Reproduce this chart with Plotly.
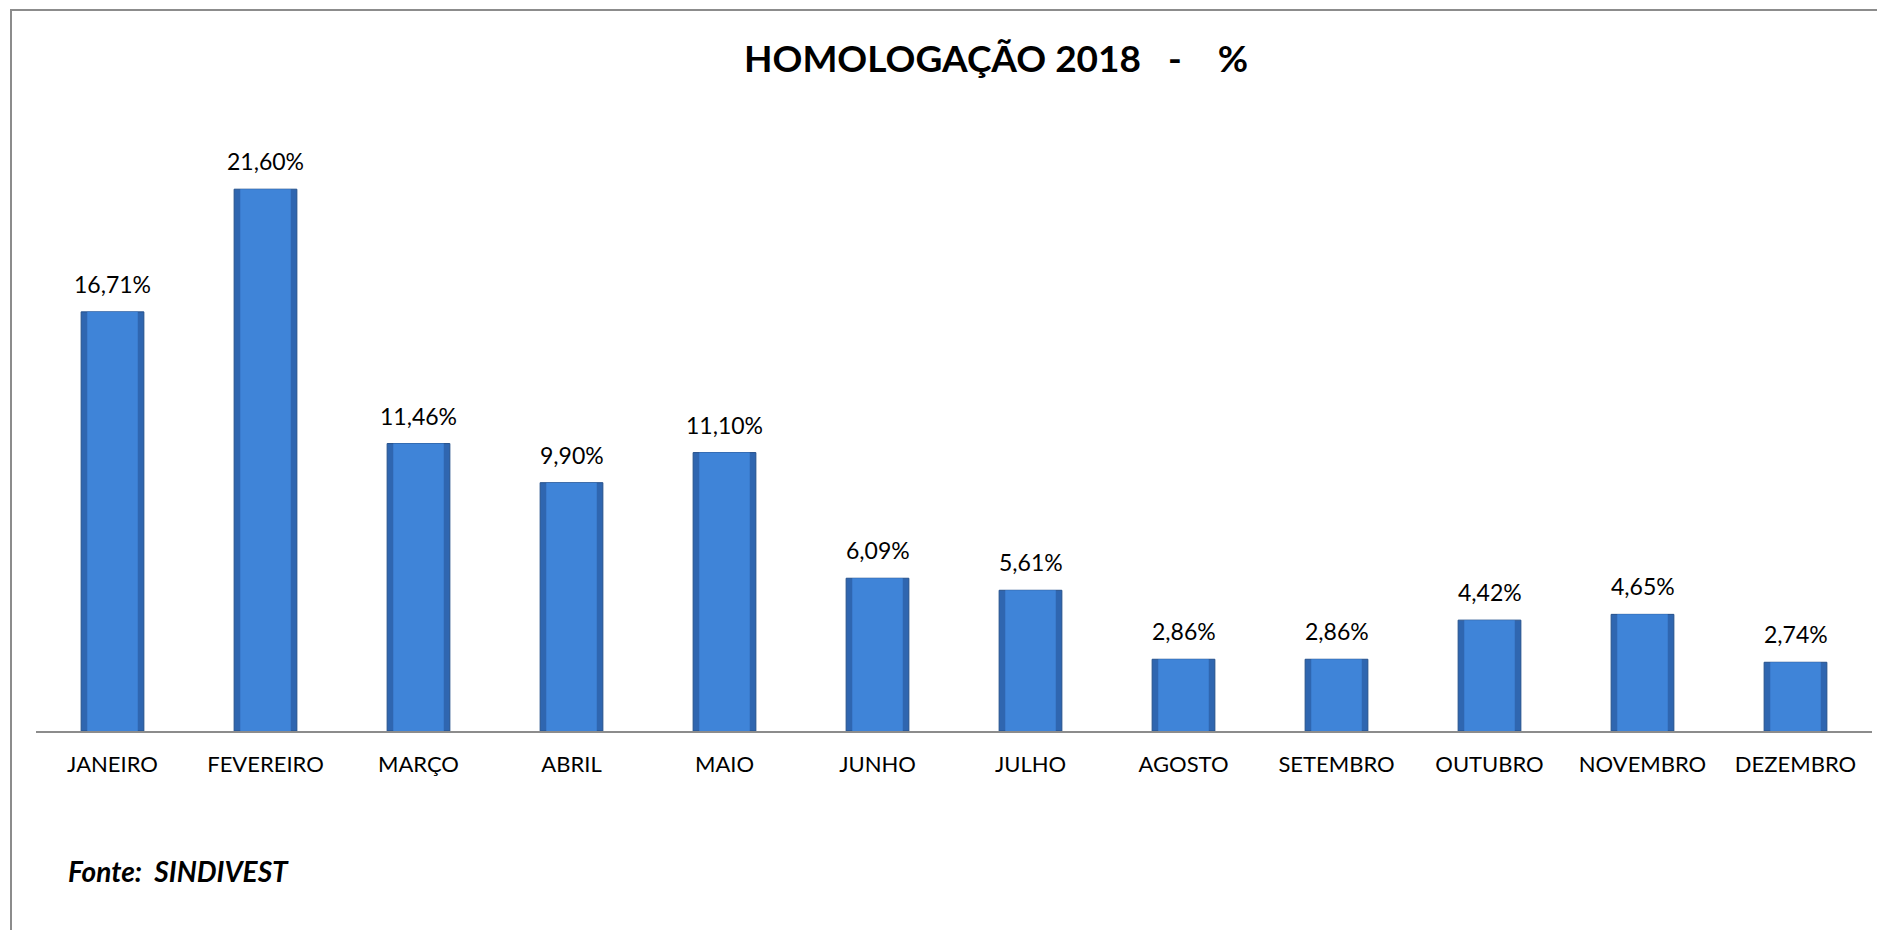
import plotly.graph_objects as go

months = ["JANEIRO", "FEVEREIRO", "MARÇO", "ABRIL", "MAIO", "JUNHO", "JULHO",
          "AGOSTO", "SETEMBRO", "OUTUBRO", "NOVEMBRO", "DEZEMBRO"]
values = [16.71, 21.60, 11.46, 9.90, 11.10, 6.09, 5.61, 2.86, 2.86, 4.42, 4.65, 2.74]
labels = ["16,71%", "21,60%", "11,46%", "9,90%", "11,10%", "6,09%", "5,61%",
          "2,86%", "2,86%", "4,42%", "4,65%", "2,74%"]
title_text = "HOMOLOGAÇÃO 2018\u00a0\u00a0\u00a0-\u00a0\u00a0\u00a0\u00a0%"
source_text = "Fonte:\u00a0\u00a0SINDIVEST"

W, H = 1877, 930
ML, MR, MT, MB = 36, 5, 129, 199
PW, PH = W - ML - MR, H - MT - MB

def xp(px):
    return (px - ML) / PW

def yp(py):
    return (H - MB - py) / PH

FONT = "Lato, Calibri, Arial, sans-serif"

fig = go.Figure()
fig.add_trace(go.Bar(x=months, y=values, width=0.41,
                     marker=dict(color="#2f66b0", line=dict(color="#24508c", width=1)),
                     hoverinfo="skip", showlegend=False))
fig.add_trace(go.Bar(x=months, y=values, width=0.33,
                     marker=dict(color="#3f84d8", line=dict(width=0)),
                     hovertemplate="%{x}: %{y}%<extra></extra>", showlegend=False))

for m, v, t in zip(months, values, labels):
    fig.add_annotation(x=m, y=v, text=t, showarrow=False, yanchor="bottom",
                       yshift=12, font=dict(family=FONT, size=23, color="#000000"))

fig.add_annotation(xref="paper", yref="paper", x=xp(996), y=yp(57), text="<b>" + title_text + "</b>",
                   showarrow=False, xanchor="center", yanchor="middle",
                   font=dict(family=FONT, size=37, color="#000000"))
fig.add_annotation(xref="paper", yref="paper", x=xp(66), y=yp(871), text="<b><i>" + source_text + "</i></b>",
                   showarrow=False, xanchor="left", yanchor="middle",
                   font=dict(family=FONT, size=28, color="#000000"))

fig.add_shape(type="line", xref="paper", yref="paper", x0=xp(10), x1=xp(1877), y0=yp(10), y1=yp(10),
              line=dict(color="#8c8c8c", width=2))
fig.add_shape(type="line", xref="paper", yref="paper", x0=xp(11), x1=xp(11), y0=yp(10), y1=yp(935),
              line=dict(color="#8c8c8c", width=2))

fig.update_layout(
    width=W, height=H,
    margin=dict(l=ML, r=MR, t=MT, b=MB),
    paper_bgcolor="white", plot_bgcolor="white",
    barmode="overlay",
    font=dict(family=FONT, size=22, color="#000000"),
    xaxis=dict(showline=True, linecolor="#8c8c8c", linewidth=2, ticks="",
               showgrid=False, tickfont=dict(family=FONT, size=22, color="#000000"),
               ticklabelstandoff=13, range=[-0.5, 11.5]),
    yaxis=dict(range=[0, 24], showgrid=False, zeroline=False, showticklabels=False,
               showline=False, ticks=""),
)

fig.write_html("out.html", config={"displayModeBar": False},
               post_script="document.body.style.margin='0px';")
